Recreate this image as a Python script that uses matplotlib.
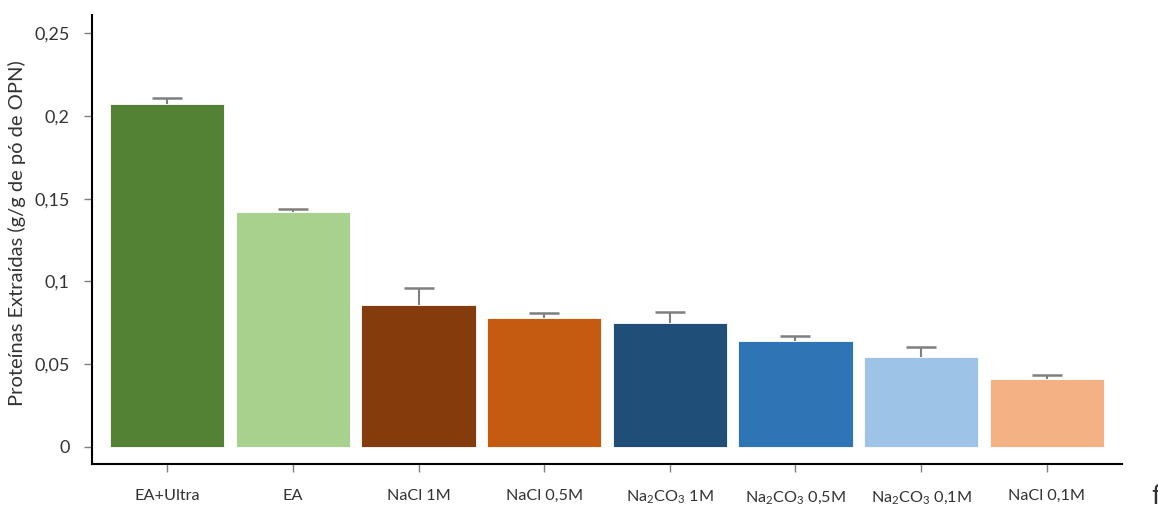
import matplotlib
matplotlib.use("Agg")
import matplotlib.pyplot as plt
from matplotlib.ticker import FuncFormatter

plt.rcParams["font.family"] = ["Lato", "DejaVu Sans"]
plt.rcParams["mathtext.fontset"] = "custom"
plt.rcParams["mathtext.rm"] = "Lato"
plt.rcParams["mathtext.it"] = "Lato"

# data
labels = [
    "EA+Ultra",
    "EA",
    "NaCl 1M",
    "NaCl 0,5M",
    "Na$_2$CO$_3$ 1M",
    "Na$_2$CO$_3$ 0,5M",
    "Na$_2$CO$_3$ 0,1M",
    "NaCl 0,1M",
]
values = [0.2071, 0.1419, 0.0857, 0.0779, 0.0749, 0.0640, 0.0543, 0.0410]
errors = [0.0037, 0.0019, 0.0103, 0.0031, 0.0066, 0.0030, 0.0061, 0.0025]
colors = ["#548235", "#A9D18E", "#843C0C", "#C55A11",
          "#1F4E79", "#2E75B6", "#9DC3E6", "#F4B183"]
yticks = [0, 0.05, 0.1, 0.15, 0.2, 0.25]

fig = plt.figure(figsize=(11.58, 5.12), dpi=100)
ax = fig.add_axes([0.0794, 0.09375, 0.969 - 0.0794, 0.9707 - 0.09375])

x = list(range(len(labels)))
ax.bar(x, values, width=0.91, color=colors, edgecolor="white", linewidth=0.6)

# upper error bars only, cap only at the top
tops = [v + e for v, e in zip(values, errors)]
ax.vlines(x, values, tops, color="#7f7f7f", linewidth=1.5)
ax.plot(x, tops, linestyle="none", marker="_", markersize=22,
        markeredgewidth=1.8, color="#7f7f7f")

ax.set_xlim(-0.6, 7.6)
ax.set_ylim(-0.0103, 0.261)
ax.set_yticks(yticks)
ax.yaxis.set_major_formatter(FuncFormatter(lambda v, p: f"{v:g}".replace(".", ",")))
ax.set_xticks(x)
ax.set_xticklabels(labels)

for s in ["top", "right"]:
    ax.spines[s].set_visible(False)
for s in ["left", "bottom"]:
    ax.spines[s].set_linewidth(1.5)
    ax.spines[s].set_color("black")

ax.tick_params(axis="y", length=6, width=1, color="#7f7f7f", labelsize=13,
               labelcolor="#333333", pad=10)
ax.tick_params(axis="x", length=6, width=1, color="#7f7f7f", labelsize=11.7,
               labelcolor="#333333", pad=12)

ax.set_ylabel("Proteínas Extraídas (g/g de pó de OPN)", fontsize=14.5,
              color="#333333")
ax.yaxis.set_label_coords(-0.064, 0.515)

# stray letter cut off at the right edge of the original image
fig.text(1151 / 1158, 1 - 497 / 512, "f", fontsize=19, va="center", ha="left",
         color="#333333")

fig.savefig("out.png", dpi=100)
